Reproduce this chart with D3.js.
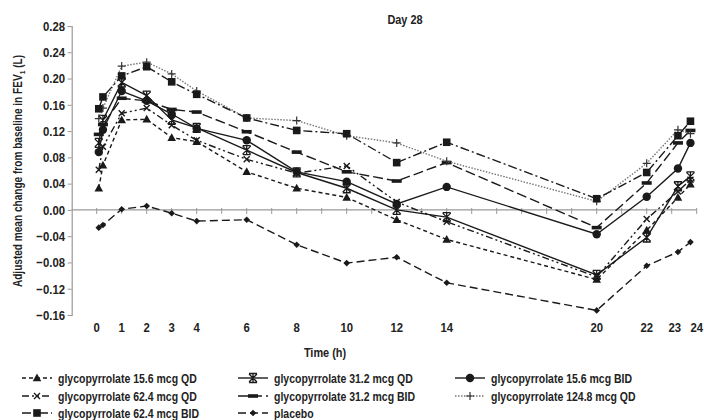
<!DOCTYPE html>
<html>
<head>
<meta charset="utf-8">
<script src="https://cdn.jsdelivr.net/npm/d3@7"></script>
<style>
  html, body { margin: 0; padding: 0; background: #fff; }
  svg { display: block; }
  text { font-family: "Liberation Sans", Arial, sans-serif; font-weight: bold; fill: #222; }
</style>
</head>
<body>
<svg id="chart" width="704" height="420"></svg>
<script>
// ---- data ----
const times = [0.083, 0.25, 1, 2, 3, 4, 6, 8, 10, 12, 14, 20, 22, 23.25, 23.75];
const gly156QD  = [0.033, 0.068, 0.137, 0.138, 0.110, 0.104, 0.058, 0.033, 0.019, -0.015, -0.045, -0.106, -0.031, 0.019, 0.039];
const gly312QD  = [0.102, 0.137, 0.194, 0.174, 0.137, 0.125, 0.091, 0.057, 0.033, 0.000, -0.011, -0.099, -0.042, 0.036, 0.051];
const gly156BID = [0.088, 0.122, 0.181, 0.166, 0.146, 0.124, 0.106, 0.058, 0.043, 0.009, 0.035, -0.037, 0.020, 0.063, 0.102];
const gly624QD  = [0.061, 0.096, 0.147, 0.155, 0.129, 0.106, 0.077, 0.056, 0.067, 0.012, -0.018, -0.102, -0.014, 0.028, 0.046];
const gly312BID = [0.115, 0.130, 0.170, 0.166, 0.153, 0.149, 0.119, 0.088, 0.058, 0.044, 0.072, -0.027, 0.041, 0.102, 0.121];
const gly1248QD = [0.139, 0.155, 0.219, 0.225, 0.207, 0.181, 0.140, 0.136, 0.113, 0.102, 0.074, 0.013, 0.071, 0.122, 0.116];
const gly624BID = [0.154, 0.172, 0.204, 0.218, 0.195, 0.176, 0.140, 0.121, 0.116, 0.072, 0.103, 0.017, 0.057, 0.113, 0.135];
const placebo   = [-0.027, -0.023, 0.001, 0.006, -0.005, -0.017, -0.015, -0.053, -0.081, -0.072, -0.111, -0.153, -0.085, -0.064, -0.049];

const seriesNames = [
  "glycopyrrolate 15.6 mcg QD", "glycopyrrolate 31.2 mcg QD", "glycopyrrolate 15.6 mcg BID",
  "glycopyrrolate 62.4 mcg QD", "glycopyrrolate 31.2 mcg BID", "glycopyrrolate 124.8 mcg QD",
  "glycopyrrolate 62.4 mcg BID", "placebo"
];
const seriesValues = [gly156QD, gly312QD, gly156BID, gly624QD, gly312BID, gly1248QD, gly624BID, placebo];
const xTickLabels = [0, 1, 2, 3, 4, 6, 8, 10, 12, 14, 20, 22, 23, 24];
const yTicks = [-0.16, -0.12, -0.08, -0.04, 0.00, 0.04, 0.08, 0.12, 0.16, 0.20, 0.24, 0.28];

// ---- styles (separate from data) ----
const styles = [
  { marker: "triangle", dash: "4,3",          color: "#1a1a1a" },
  { marker: "star",     dash: null,           color: "#1a1a1a" },
  { marker: "circle",   dash: null,           color: "#1a1a1a" },
  { marker: "x",        dash: "7,3,2,3,2,3",  color: "#1a1a1a" },
  { marker: "bar",      dash: "10,4",         color: "#1a1a1a" },
  { marker: "plus",     dash: "1.5,1.5",      color: "#777" },
  { marker: "square",   dash: "9,3,2,3",      color: "#1a1a1a" },
  { marker: "diamond",  dash: "8,4",          color: "#1a1a1a" }
];
const SX = 0.84; // condensed look

const svg = d3.select("#chart");
const x = d3.scaleLinear().domain([-1, 24]).range([71.7, 696.7]);
const y = d3.scaleLinear().domain([-0.16, 0.28]).range([315, 26]);

function addText(parent, tx, ty, str, size, anchor, rotate) {
  const g = parent.append("g")
    .attr("transform", `translate(${tx},${ty})` + (rotate ? ` rotate(${rotate})` : "") + ` scale(${SX},1)`);
  return g.append("text").attr("text-anchor", anchor || "start").attr("font-size", size).text(str);
}

// y axis
const yAxis = d3.axisLeft(y).tickValues(yTicks).tickFormat(d3.format(".2f")).tickSize(4).tickPadding(4);
const gy = svg.append("g").attr("transform", `translate(${x(-1)},0)`).call(yAxis);
gy.select(".domain").attr("stroke", "#999").attr("stroke-width", 1.2);
gy.selectAll(".tick line").attr("stroke", "#999");
gy.selectAll(".tick text").attr("font-size", 13.5).attr("fill", "#222")
  .attr("transform", `scale(${SX},1)`)
  .style("font-family", '"Liberation Sans", Arial, sans-serif').style("font-weight", "bold");

// x axis at y = 0, with cross ticks every hour
const gx = svg.append("g");
gx.append("line").attr("x1", x(-1)).attr("x2", x(24)).attr("y1", y(0)).attr("y2", y(0))
  .attr("stroke", "#999").attr("stroke-width", 1.2);
gx.selectAll("line.tk").data(d3.range(0, 25)).join("line").attr("class", "tk")
  .attr("x1", d => x(d)).attr("x2", d => x(d)).attr("y1", y(0) - 2).attr("y2", y(0) + 4)
  .attr("stroke", "#999").attr("stroke-width", 1);
const gxl = svg.append("g");
xTickLabels.forEach(d => addText(gxl, x(d) + (d === 23 ? 3 : 0), 332, d, 13.5, "middle"));

// titles
addText(svg, 405, 24, "Day 28", 13, "middle");
addText(svg, 325, 357, "Time (h)", 13, "middle");
const yt = addText(svg, 22, 171, "", 12, "middle", -90);
yt.append("tspan").text("Adjusted mean change from baseline in FEV");
yt.append("tspan").attr("font-size", 8).attr("dy", 3).text("1");
yt.append("tspan").attr("dy", -3).text(" (L)");

// markers
function drawMarker(g, type, color) {
  switch (type) {
    case "triangle":
      g.append("path").attr("d", "M0,-4.5L4.3,3.3L-4.3,3.3Z").attr("fill", color); break;
    case "circle":
      g.append("circle").attr("r", 4.2).attr("fill", color); break;
    case "square":
      g.append("rect").attr("x", -3.8).attr("y", -3.8).attr("width", 7.6).attr("height", 7.6).attr("fill", color); break;
    case "diamond":
      g.append("path").attr("d", "M0,-3.3L3.3,0L0,3.3L-3.3,0Z").attr("fill", color); break;
    case "bar":
      g.append("rect").attr("x", -5).attr("y", -1.8).attr("width", 10).attr("height", 3.6).attr("fill", color); break;
    case "plus":
      g.append("path").attr("d", "M-4,0H4M0,-4V4").attr("stroke", "#333").attr("stroke-width", 1.2).attr("fill", "none"); break;
    case "x":
      g.append("path").attr("d", "M-3,-3L3,3M-3,3L3,-3").attr("stroke", color).attr("stroke-width", 1.4).attr("fill", "none"); break;
    case "star":
      g.append("path").attr("d", "M-4,-4L4,4M-4,4L4,-4M0,-4.5V4.5M-4,-4.5H4M-4,4.5H4")
        .attr("stroke", color).attr("stroke-width", 1.3).attr("fill", "none"); break;
  }
}

const line = d3.line().x(d => x(d[0])).y(d => y(d[1]));

// draw series
seriesValues.forEach((vals, i) => {
  const st = styles[i];
  const pts = times.map((t, j) => [t, vals[j]]);
  const g = svg.append("g");
  g.append("path").datum(pts).attr("d", line).attr("fill", "none")
    .attr("stroke", st.color).attr("stroke-width", 1.4)
    .attr("stroke-dasharray", st.dash);
  pts.forEach(p => {
    const mg = g.append("g").attr("transform", `translate(${x(p[0])},${y(p[1])})`);
    drawMarker(mg, st.marker, "#1a1a1a");
  });
});

// legend
const legCols = [22, 238, 455];
const legRows = [378, 396, 413];
seriesNames.forEach((name, i) => {
  const st = styles[i];
  const cx = legCols[i % 3], cy = legRows[Math.floor(i / 3)];
  const g = svg.append("g").attr("transform", `translate(${cx},${cy})`);
  g.append("line").attr("x1", 0).attr("x2", 30).attr("y1", 0).attr("y2", 0)
    .attr("stroke", st.color).attr("stroke-width", 1.4).attr("stroke-dasharray", st.dash);
  drawMarker(g.append("g").attr("transform", "translate(15,0)"), st.marker, "#1a1a1a");
  addText(g, 36, 4.5, name, 12.5, "start");
});
</script>
</body>
</html>
